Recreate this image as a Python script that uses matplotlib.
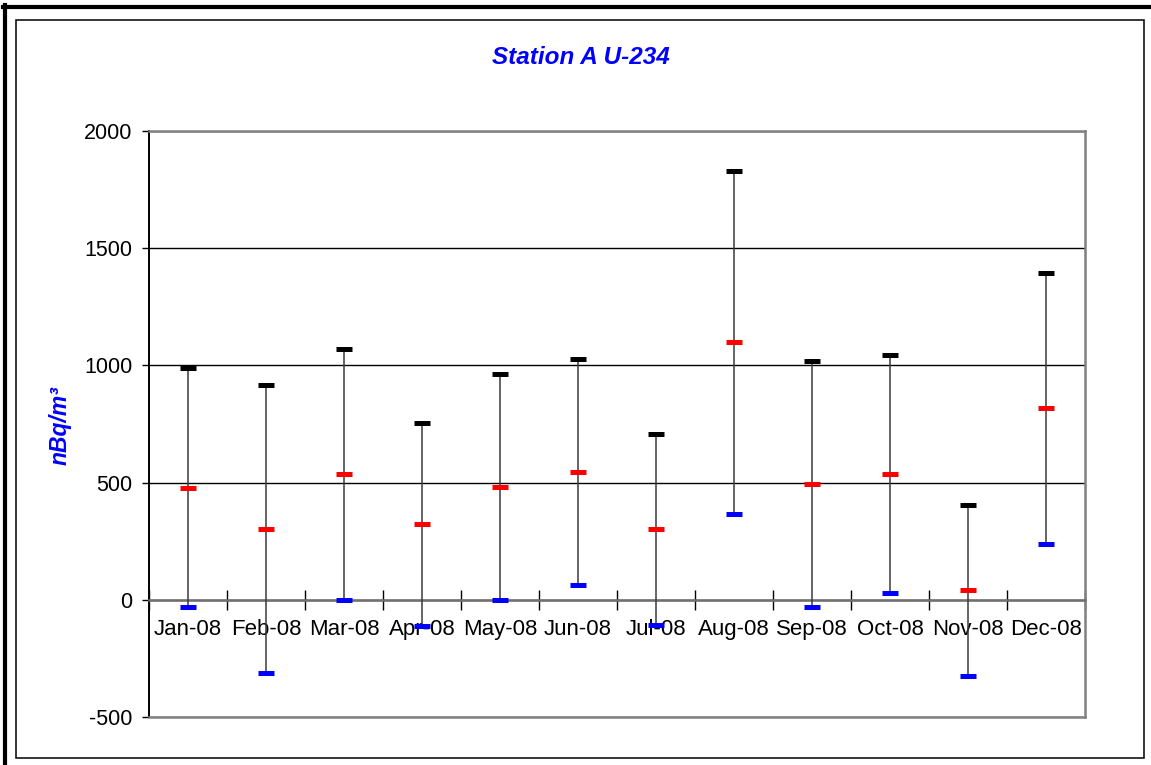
import matplotlib
matplotlib.use("Agg")
import matplotlib.pyplot as plt
from matplotlib.lines import Line2D
from matplotlib.patches import Rectangle

plt.rcParams['font.family'] = ['Liberation Sans', 'DejaVu Sans']
plt.rcParams['axes.unicode_minus'] = False

# ---------------------------------------------------------------
# Data
# ---------------------------------------------------------------
months = ["Jan-08", "Feb-08", "Mar-08", "Apr-08", "May-08", "Jun-08",
          "Jul-08", "Aug-08", "Sep-08", "Oct-08", "Nov-08", "Dec-08"]
high = [987, 918, 1072, 756, 962, 1028, 706, 1831, 1018, 1046, 405, 1396]
mid  = [479, 301, 537, 322, 481, 545, 300, 1099, 496, 538, 40, 818]
low  = [-30, -314, 0, -111, 0, 63, -108, 368, -30, 31, -323, 237]

W, H = 1151, 765
fig = plt.figure(figsize=(W / 100, H / 100), dpi=100)

# plot area in pixels: left 149, right 1085, top 131, bottom 717
ax = fig.add_axes([149 / W, 1 - 717 / H, (1085 - 149) / W, (717 - 131) / H])

x = list(range(len(months)))

# hi-low lines
ax.vlines(x, low, high, color="#3a3a3a", lw=1.1, zorder=3)

# caps
cap = dict(ls="none", marker="_", ms=12, mew=3.6, zorder=4,
           solid_capstyle="round")
ax.plot(x, high, color="black", **cap)
ax.plot(x, mid, color="#ff0000", **cap)
ax.plot(x, low, color="#0000ff", **cap)

# axes
ax.set_xlim(-0.5, 11.5)
ax.set_ylim(-500, 2000)
ax.set_yticks([-500, 0, 500, 1000, 1500, 2000])
ax.yaxis.grid(True, color="black", lw=1.0)
ax.set_axisbelow(True)

for s in ["top", "right"]:
    ax.spines[s].set_color("#808080")
    ax.spines[s].set_linewidth(1.8)
ax.spines["left"].set_color("black")
ax.spines["left"].set_linewidth(1.4)

# category axis sits at y = 0
ax.spines["bottom"].set_position(("data", 0))
ax.spines["bottom"].set_color("#707070")
ax.spines["bottom"].set_linewidth(1.8)
ax.axhline(-500, color="#808080", lw=1.8, zorder=5, clip_on=False)

ax.set_xticks(x)
ax.set_xticklabels(months)
ax.set_xticks([i - 0.5 for i in range(len(months) + 1)], minor=True)
ax.tick_params(axis="x", which="major", length=0, pad=14, labelsize=16)
ax.tick_params(axis="x", which="minor", direction="inout", length=14,
               width=1.0, color="black")
ax.tick_params(axis="y", which="major", direction="out", length=5,
               width=1.0, color="black", pad=7, labelsize=15.5)

# title and axis label
fig.text(581 / W, 1 - 57 / H, "Station A U-234", ha="center", va="center",
         color="#0000ff", fontsize=17.5, fontweight="bold", fontstyle="italic")
fig.text(60 / W, 1 - 426 / H, "nBq/m³", ha="center", va="center",
         rotation=90, color="#0000ff", fontsize=16.5, fontweight="bold",
         fontstyle="italic")

# frames around the chart
fig.add_artist(Rectangle((16 / W, 1 - 757.5 / H), (1144 - 16) / W,
                         (757.5 - 20) / H, transform=fig.transFigure,
                         fill=False, ec="black", lw=1.1))
fig.add_artist(Line2D([5.3 / W, 5.3 / W], [0, 1 - 5 / H],
                      transform=fig.transFigure, color="black", lw=3.0))
fig.add_artist(Line2D([3 / W, 1], [1 - 7 / H, 1 - 7 / H],
                      transform=fig.transFigure, color="black", lw=3.0))

fig.savefig("out.png", dpi=100)
